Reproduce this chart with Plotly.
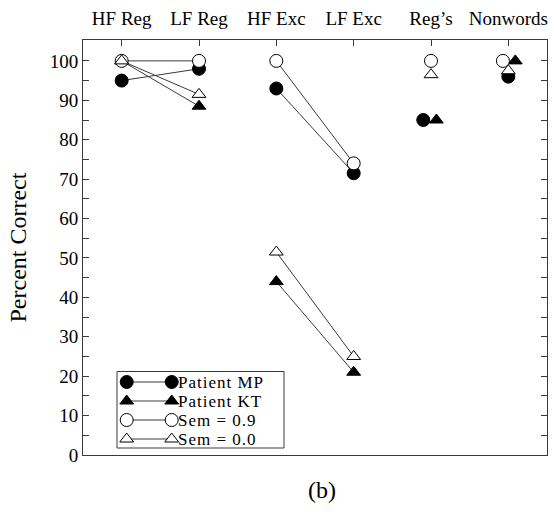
import plotly.graph_objects as go

# ---- data ----
categories = ["HF Reg", "LF Reg", "HF Exc", "LF Exc", "Reg\u2019s", "Nonwords"]
patient_mp = [95, 98, 93, 71.5, 85, 96]
patient_kt = [100, 88.5, 44, 21, 85, 100]
sem_09 = [100, 100, 100, 74, 100, 100]
sem_00 = [100, 91.5, 51.5, 25, 96.5, 97.5]
y_tick_vals = list(range(0, 101, 5))
y_tick_text = [str(v) if v % 10 == 0 else "" for v in y_tick_vals]
series_names = ["Patient MP", "Patient KT", "Sem = 0.9", "Sem = 0.0"]

# small horizontal offsets used in the original to separate overlapping symbols
offsets = {
    "Patient MP": [0, 0, 0, 0, -0.10, 0],
    "Patient KT": [0, 0, 0, 0, 0.07, 0.09],
    "Sem = 0.9": [0, 0, 0, 0, 0, -0.07],
    "Sem = 0.0": [0, 0, 0, 0, 0, 0],
}
# which category pairs are connected by lines
segments = [[0, 1], [2, 3], [4], [5]]

styles = {
    "Patient MP": dict(symbol="circle", color="black", size=13),
    "Patient KT": dict(symbol="triangle-up", color="black", size=12),
    "Sem = 0.9": dict(symbol="circle", color="white", size=13),
    "Sem = 0.0": dict(symbol="triangle-up", color="white", size=12),
}
values = {"Patient MP": patient_mp, "Patient KT": patient_kt,
          "Sem = 0.9": sem_09, "Sem = 0.0": sem_00}

FONT = "Liberation Serif"
LINE_COL = "#3a3a3a"

fig = go.Figure()
for name in series_names:
    xs, ys = [], []
    for seg in segments:
        if xs:
            xs.append(None)
            ys.append(None)
        for i in seg:
            xs.append(i + offsets[name][i])
            ys.append(values[name][i])
    st = styles[name]
    fig.add_trace(go.Scatter(
        x=xs, y=ys, mode="lines+markers", name=name, showlegend=False,
        line=dict(color=LINE_COL, width=1),
        marker=dict(symbol=st["symbol"], size=st["size"], color=st["color"],
                    line=dict(color="black", width=1)),
        connectgaps=False,
    ))

# ---- custom legend (pixel-based overlay axes) ----
PX_L, PX_R, PX_T, PX_B = 83, 547, 40, 455
box = dict(x0=117, x1=284, y0=371.5, y1=448)
ROW_STEP = 19
rows = [382 + i * ROW_STEP for i in range(len(series_names))]
sym_x = [126.7, 171.7]
text_x = 176.5
for name, ry in zip(series_names, rows):
    st = styles[name]
    fig.add_trace(go.Scatter(
        x=sym_x, y=[ry, ry], xaxis="x2", yaxis="y2", mode="lines+markers",
        showlegend=False, hoverinfo="skip",
        line=dict(color=LINE_COL, width=1),
        marker=dict(symbol=st["symbol"], size=st["size"], color=st["color"],
                    line=dict(color="black", width=1)),
    ))

annotations = [
    dict(text="<span style='letter-spacing:1px'>%s</span>" % name,
         x=text_x, y=ry, xref="x2", yref="y2", xanchor="left",
         yanchor="middle", showarrow=False, borderpad=0,
         font=dict(family=FONT, size=17, color="black"))
    for name, ry in zip(series_names, rows)
]
annotations.append(dict(text="Percent Correct", x=0, y=0.5, xref="paper", yref="paper",
                        xshift=-66, textangle=-90, showarrow=False,
                        xanchor="center", yanchor="middle",
                        font=dict(family=FONT, size=24, color="black")))
annotations.append(dict(text="(b)", x=0.515, y=0, xref="paper", yref="paper",
                        yshift=-35, showarrow=False, xanchor="center", yanchor="middle",
                        font=dict(family=FONT, size=24, color="black")))

fig.update_layout(
    width=554, height=519,
    margin=dict(l=83, r=7, t=40, b=64),
    paper_bgcolor="white", plot_bgcolor="white",
    font=dict(family=FONT, color="black"),
    xaxis=dict(range=[-0.5, 5.5], side="top", tickmode="array",
               tickvals=list(range(len(categories))), ticktext=categories,
               ticks="inside", ticklen=6, tickcolor=LINE_COL,
               ticklabelstandoff=6,
               showline=True, linecolor=LINE_COL, linewidth=1, mirror=True,
               showgrid=False, zeroline=False,
               tickfont=dict(family=FONT, size=19, color="black")),
    yaxis=dict(range=[0, 105.3], tickmode="array", tickvals=y_tick_vals,
               ticktext=y_tick_text,
               ticks="inside", ticklen=6, tickcolor=LINE_COL,
               showline=True, linecolor=LINE_COL, linewidth=1, mirror="ticks",
               showgrid=False, zeroline=False,
               tickfont=dict(family=FONT, size=19, color="black")),
    xaxis2=dict(range=[PX_L, PX_R], overlaying="x", visible=False),
    yaxis2=dict(range=[PX_B, PX_T], overlaying="y", visible=False),
    shapes=[dict(type="rect", xref="x2", yref="y2", **box,
                 line=dict(color=LINE_COL, width=1), fillcolor="white", layer="below")],
    annotations=annotations,
)

fig.write_html("out.html")
